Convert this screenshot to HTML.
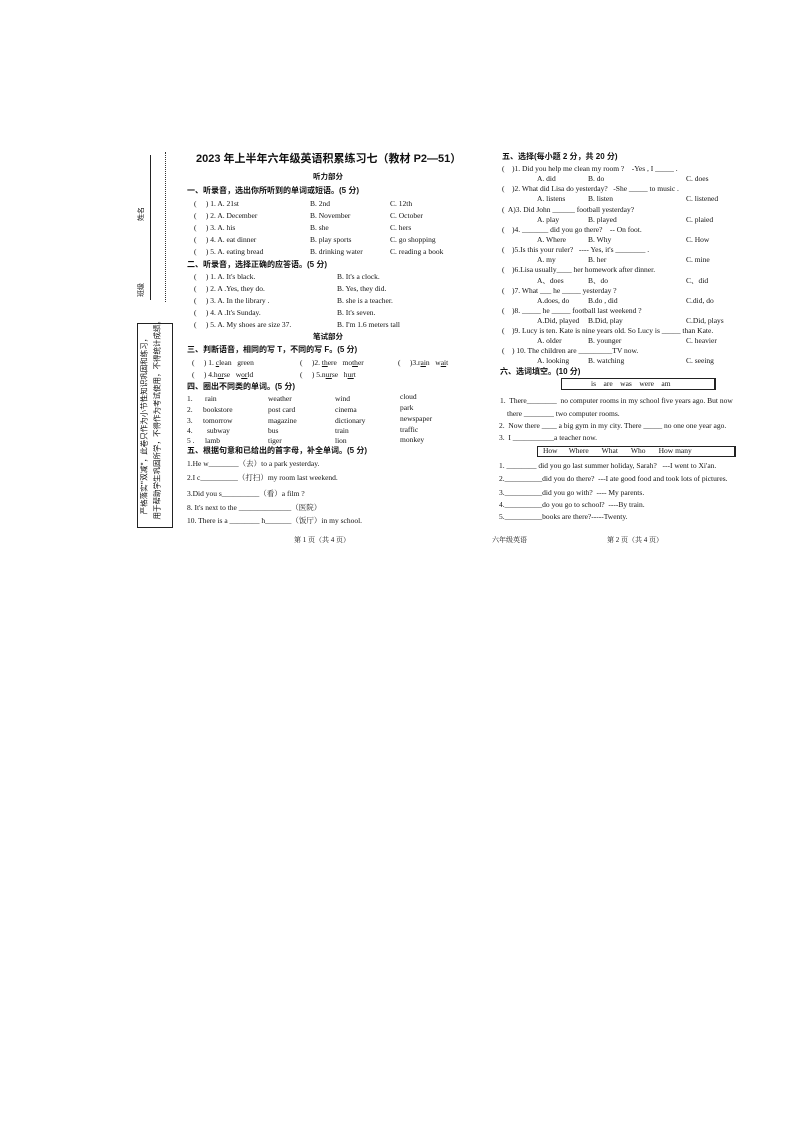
<!DOCTYPE html>
<html><head><meta charset="utf-8"><style>
body{margin:0;background:#fff;}
#p{position:relative;width:794px;height:1122px;overflow:hidden;font-family:"Liberation Serif","Noto Serif CJK SC",serif;color:#111;font-size:7.5px;}
#p div{position:absolute;white-space:nowrap;line-height:1;}
.h{font-family:"Liberation Sans","Noto Sans CJK SC",sans-serif;font-weight:bold;font-size:8px;}
.r{transform:rotate(-90deg);transform-origin:center center;text-align:center;font-family:"Noto Sans CJK SC",sans-serif;}
</style></head><body><div id="p">
<!-- sidebar -->
<div style="left:150px;top:155px;width:0;height:145px;border-left:1px solid #222"></div>
<div style="left:165px;top:152px;width:0;height:150px;border-left:1px dotted #333"></div>
<div class="r" style="left:132px;top:210px;width:20px;height:8px;font-size:7px">姓名</div>
<div class="r" style="left:132px;top:286px;width:20px;height:8px;font-size:7px">班级</div>
<div style="left:137px;top:323px;width:34px;height:203px;border:1.5px solid #222"></div>
<div class="r" style="left:50px;top:420px;width:190px;height:9px;font-size:7.5px">严格落实"双减"，此卷只作为小节性知识巩固和练习，</div>
<div class="r" style="left:63px;top:420px;width:190px;height:9px;font-size:7.5px">用于帮助学生巩固所学，不得作为考试使用，不得统计成绩。</div>
<!-- left column -->
<div class="h" style="left:196px;top:154px;font-size:11px">2023 年上半年六年级英语积累练习七（教材 P2—51）</div>
<div class="h" style="left:313px;top:173px;font-size:7.5px">听力部分</div>
<div class="h" style="left:187px;top:187px">一、听录音，选出你所听到的单词或短语。(5 分)</div>
<div style="left:194px;top:200px">(&nbsp;&nbsp;&nbsp;&nbsp;&nbsp;) 1. A. 21st</div><div style="left:310px;top:200px">B. 2nd</div><div style="left:390px;top:200px">C. 12th</div>
<div style="left:194px;top:212px">(&nbsp;&nbsp;&nbsp;&nbsp;&nbsp;) 2. A. December</div><div style="left:310px;top:212px">B. November</div><div style="left:390px;top:212px">C. October</div>
<div style="left:194px;top:224px">(&nbsp;&nbsp;&nbsp;&nbsp;&nbsp;) 3. A. his</div><div style="left:310px;top:224px">B. she</div><div style="left:390px;top:224px">C. hers</div>
<div style="left:194px;top:236px">(&nbsp;&nbsp;&nbsp;&nbsp;&nbsp;) 4. A. eat dinner</div><div style="left:310px;top:236px">B. play sports</div><div style="left:390px;top:236px">C. go shopping</div>
<div style="left:194px;top:248px">(&nbsp;&nbsp;&nbsp;&nbsp;&nbsp;) 5. A. eating bread</div><div style="left:310px;top:248px">B. drinking water</div><div style="left:390px;top:248px">C. reading a book</div>
<div class="h" style="left:187px;top:261px">二、听录音，选择正确的应答语。(5 分)</div>
<div style="left:194px;top:273px">(&nbsp;&nbsp;&nbsp;&nbsp;&nbsp;) 1. A. It's black.</div><div style="left:337px;top:273px">B. It's a clock.</div>
<div style="left:194px;top:285px">(&nbsp;&nbsp;&nbsp;&nbsp;&nbsp;) 2. A .Yes, they do.</div><div style="left:337px;top:285px">B. Yes, they did.</div>
<div style="left:194px;top:297px">(&nbsp;&nbsp;&nbsp;&nbsp;&nbsp;) 3. A. In the library .</div><div style="left:337px;top:297px">B. she is a teacher.</div>
<div style="left:194px;top:309px">(&nbsp;&nbsp;&nbsp;&nbsp;&nbsp;) 4. A .It's Sunday.</div><div style="left:337px;top:309px">B. It's seven.</div>
<div style="left:194px;top:321px">(&nbsp;&nbsp;&nbsp;&nbsp;&nbsp;) 5. A. My shoes are size 37.</div><div style="left:337px;top:321px">B. I'm 1.6 meters tall</div>
<div class="h" style="left:313px;top:333px;font-size:7.5px">笔试部分</div>
<div class="h" style="left:187px;top:346px">三、判断语音，相同的写 T，不同的写 F。(5 分)</div>
<div style="left:192px;top:359px">(&nbsp;&nbsp;&nbsp;&nbsp;&nbsp;) 1. <u>c</u>lean&nbsp;&nbsp; <u>g</u>reen</div><div style="left:300px;top:359px">(&nbsp;&nbsp;&nbsp;&nbsp;&nbsp;)2. <u>th</u>ere&nbsp;&nbsp; mo<u>th</u>er</div><div style="left:398px;top:359px">(&nbsp;&nbsp;&nbsp;&nbsp;&nbsp;)3.r<u>ai</u>n&nbsp;&nbsp; w<u>ai</u>t</div>
<div style="left:192px;top:371px">(&nbsp;&nbsp;&nbsp;&nbsp;&nbsp;) 4.h<u>or</u>se&nbsp;&nbsp; w<u>or</u>ld</div><div style="left:300px;top:371px">(&nbsp;&nbsp;&nbsp;&nbsp;&nbsp;) 5.n<u>ur</u>se&nbsp;&nbsp; h<u>ur</u>t</div>
<div class="h" style="left:187px;top:383px">四、圈出不同类的单词。(5 分)</div>
<div style="left:187px;top:395px">1.</div><div style="left:205px;top:395px">rain</div><div style="left:268px;top:395px">weather</div><div style="left:335px;top:395px">wind</div><div style="left:400px;top:393px">cloud</div>
<div style="left:187px;top:406px">2.</div><div style="left:203px;top:406px">bookstore</div><div style="left:268px;top:406px">post card</div><div style="left:335px;top:406px">cinema</div><div style="left:400px;top:404px">park</div>
<div style="left:187px;top:417px">3.</div><div style="left:203px;top:417px">tomorrow</div><div style="left:268px;top:417px">magazine</div><div style="left:335px;top:417px">dictionary</div><div style="left:400px;top:415px">newspaper</div>
<div style="left:187px;top:427px">4.</div><div style="left:207px;top:427px">subway</div><div style="left:268px;top:427px">bus</div><div style="left:335px;top:427px">train</div><div style="left:400px;top:426px">traffic</div>
<div style="left:187px;top:437px">5 .</div><div style="left:205px;top:437px">lamb</div><div style="left:268px;top:437px">tiger</div><div style="left:335px;top:437px">lion</div><div style="left:400px;top:436px">monkey</div>
<div class="h" style="left:187px;top:447px">五、根据句意和已给出的首字母，补全单词。(5 分)</div>
<div style="left:187px;top:460px">1.He w________（去）to a park yesterday.</div>
<div style="left:187px;top:474px">2.I c__________（打扫）my room last weekend.</div>
<div style="left:187px;top:490px">3.Did you s__________（看）a film ?</div>
<div style="left:187px;top:504px">8. It's next to the ______________（医院）</div>
<div style="left:187px;top:517px">10. There is a ________ h_______（饭厅）in my school.</div>
<div style="left:294px;top:537px;font-size:7px">第 1 页（共 4 页）</div>
<div style="left:492px;top:537px;font-size:7px">六年级英语</div>
<div style="left:607px;top:537px;font-size:7px">第 2 页（共 4 页）</div>
<!-- right column -->
<div class="h" style="left:502px;top:153px">五、选择(每小题 2 分，共 20 分)</div>
<div style="left:502px;top:165px">(&nbsp;&nbsp;&nbsp;&nbsp;)1. Did you help me clean my room ?&nbsp;&nbsp;&nbsp; -Yes , I _____ .</div>
<div style="left:537px;top:175px">A. did</div><div style="left:588px;top:175px">B. do</div><div style="left:686px;top:175px">C. does</div>
<div style="left:502px;top:185px">(&nbsp;&nbsp;&nbsp;&nbsp;)2. What did Lisa do yesterday?&nbsp;&nbsp; -She _____ to music .</div>
<div style="left:537px;top:195px">A. listens</div><div style="left:588px;top:195px">B. listen</div><div style="left:686px;top:195px">C. listened</div>
<div style="left:502px;top:206px">(&nbsp; A)3. Did John ______ football yesterday?</div>
<div style="left:537px;top:216px">A. play</div><div style="left:588px;top:216px">B. played</div><div style="left:686px;top:216px">C. plaied</div>
<div style="left:502px;top:226px">(&nbsp;&nbsp;&nbsp;&nbsp;)4. _______ did you go there?&nbsp;&nbsp;&nbsp; -- On foot.</div>
<div style="left:537px;top:236px">A. Where</div><div style="left:588px;top:236px">B. Why</div><div style="left:686px;top:236px">C. How</div>
<div style="left:502px;top:246px">(&nbsp;&nbsp;&nbsp;&nbsp;)5.Is this your ruler?&nbsp;&nbsp; ---- Yes, it's ________ .</div>
<div style="left:537px;top:256px">A. my</div><div style="left:588px;top:256px">B. her</div><div style="left:686px;top:256px">C. mine</div>
<div style="left:502px;top:266px">(&nbsp;&nbsp;&nbsp;&nbsp;)6.Lisa usually____ her homework after dinner.</div>
<div style="left:537px;top:277px">A、does</div><div style="left:588px;top:277px">B、do</div><div style="left:686px;top:277px">C、did</div>
<div style="left:502px;top:287px">(&nbsp;&nbsp;&nbsp;&nbsp;)7. What ___ he _____ yesterday ?</div>
<div style="left:537px;top:297px">A.does, do</div><div style="left:588px;top:297px">B.do , did</div><div style="left:686px;top:297px">C.did, do</div>
<div style="left:502px;top:307px">(&nbsp;&nbsp;&nbsp;&nbsp;)8. _____ he _____ football last weekend ?</div>
<div style="left:537px;top:317px">A.Did, played</div><div style="left:588px;top:317px">B.Did, play</div><div style="left:686px;top:317px">C.Did, plays</div>
<div style="left:502px;top:327px">(&nbsp;&nbsp;&nbsp;&nbsp;)9. Lucy is ten. Kate is nine years old. So Lucy is _____ than Kate.</div>
<div style="left:537px;top:337px">A. older</div><div style="left:588px;top:337px">B. younger</div><div style="left:686px;top:337px">C. heavier</div>
<div style="left:502px;top:347px">(&nbsp;&nbsp;&nbsp;&nbsp;) 10. The children are _________TV now.</div>
<div style="left:537px;top:357px">A. looking</div><div style="left:588px;top:357px">B. watching</div><div style="left:686px;top:357px">C. seeing</div>
<div class="h" style="left:500px;top:368px">六、选词填空。(10 分)</div>
<div style="left:561px;top:378px;width:152px;height:10px;border:1px solid #222;border-right-width:2px"></div>
<div style="left:591px;top:380px">is&nbsp;&nbsp;&nbsp; are&nbsp;&nbsp;&nbsp; was&nbsp;&nbsp;&nbsp; were&nbsp;&nbsp;&nbsp; am</div>
<div style="left:500px;top:397px">1.&nbsp; There________&nbsp; no computer rooms in my school five years ago. But now</div>
<div style="left:507px;top:410px">there ________ two computer rooms.</div>
<div style="left:499px;top:422px">2.&nbsp; Now there ____ a big gym in my city. There _____ no one one year ago.</div>
<div style="left:499px;top:434px">3.&nbsp; I ___________a teacher now.</div>
<div style="left:537px;top:446px;width:196px;height:9px;border:1px solid #222;border-right-width:2px"></div>
<div style="left:543px;top:447px">How&nbsp;&nbsp;&nbsp;&nbsp;&nbsp; Where&nbsp;&nbsp;&nbsp;&nbsp;&nbsp;&nbsp; What&nbsp;&nbsp;&nbsp;&nbsp;&nbsp;&nbsp; Who&nbsp;&nbsp;&nbsp;&nbsp;&nbsp;&nbsp; How many</div>
<div style="left:499px;top:462px">1. ________ did you go last summer holiday, Sarah?&nbsp;&nbsp; ---I went to Xi'an.</div>
<div style="left:499px;top:475px">2.__________did you do there?&nbsp; ---I ate good food and took lots of pictures.</div>
<div style="left:499px;top:489px">3.__________did you go with?&nbsp; ---- My parents.</div>
<div style="left:499px;top:501px">4.__________do you go to school?&nbsp; ----By train.</div>
<div style="left:499px;top:513px">5.__________books are there?-----Twenty.</div>
</div></body></html>
